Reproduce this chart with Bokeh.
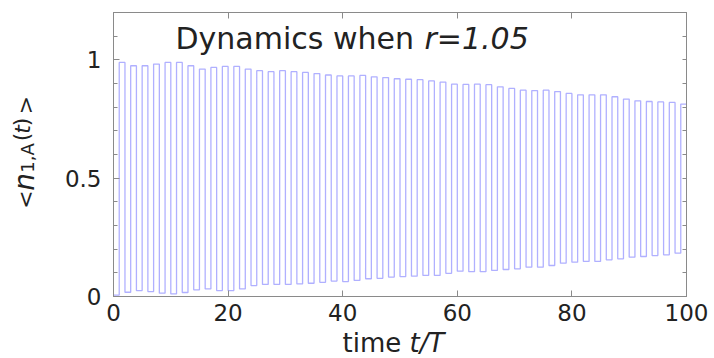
import numpy as np
from bokeh.plotting import figure
from bokeh.layouts import row, column
from bokeh.models import Label, LinearAxis, FixedTicker, Range1d, ColumnDataSource
from bokeh.embed import file_html
from bokeh.resources import INLINE

# ---- data ----
pulse_index = list(range(50))          # pulse k: low on [2k, 2k+1], high on [2k+1, 2k+2]
high_vals = [0.989, 0.975, 0.975, 0.982, 0.989, 0.989, 0.975, 0.961, 0.968, 0.972,
             0.972, 0.961, 0.954, 0.950, 0.954, 0.950, 0.947, 0.942, 0.936, 0.932,
             0.932, 0.934, 0.928, 0.925, 0.920, 0.918, 0.916, 0.911, 0.906, 0.897,
             0.896, 0.897, 0.895, 0.886, 0.879, 0.872, 0.870, 0.872, 0.866, 0.858,
             0.852, 0.852, 0.852, 0.844, 0.834, 0.827, 0.824, 0.822, 0.820, 0.813]
low_vals = [0.006, 0.018, 0.025, 0.021, 0.014, 0.011, 0.017, 0.028, 0.032, 0.025,
            0.025, 0.032, 0.046, 0.051, 0.051, 0.051, 0.053, 0.056, 0.060, 0.065,
            0.063, 0.068, 0.075, 0.077, 0.082, 0.084, 0.086, 0.089, 0.089, 0.098,
            0.107, 0.105, 0.105, 0.110, 0.114, 0.117, 0.124, 0.124, 0.131, 0.141,
            0.145, 0.148, 0.148, 0.155, 0.159, 0.166, 0.169, 0.173, 0.176, 0.183]
x_ticks = [0, 20, 40, 60, 80, 100]
y_ticks = [0, 0.5, 1]
y_minor = [round(0.1 * i, 1) for i in range(13)]

xs, ys = [], []
for k in pulse_index:
    t0 = 2 * k
    xs += [t0, t0 + 1, t0 + 1, t0 + 2]
    ys += [low_vals[k], low_vals[k], high_vals[k], high_vals[k]]
src = ColumnDataSource(dict(x=xs, y=ys))

FONT = "DejaVu Sans"
GRAY = "#8a8a8a"
TXT = "#222222"
MAIN_H = 327
FRAME_BOTTOM = 296   # page y of the plot frame's bottom edge (shared by the y-label strip)

p = figure(width=654, height=MAIN_H, x_range=Range1d(0, 100), y_range=Range1d(0, 1.2),
           output_backend="svg", toolbar_location=None,
           min_border_left=53, min_border_right=28, min_border_top=12,
           min_border_bottom=MAIN_H - FRAME_BOTTOM)
p.grid.visible = False
p.outline_line_color = GRAY
p.background_fill_color = "white"

p.line("x", "y", source=src, line_color="#7c7cff", line_alpha=0.6, line_width=1.3)

def style(ax):
    ax.axis_line_color = GRAY
    ax.major_tick_line_color = GRAY
    ax.minor_tick_line_color = GRAY
    ax.major_tick_in = 6
    ax.major_tick_out = 0
    ax.minor_tick_in = 4
    ax.minor_tick_out = 0
    ax.major_label_text_font = FONT
    ax.major_label_text_font_size = "23px"
    ax.major_label_text_color = TXT

xa = p.xaxis[0]
xa.ticker = FixedTicker(ticks=x_ticks)
style(xa)
xa.minor_tick_line_color = None
xa.major_label_standoff = 7

ya = p.yaxis[0]
ya.ticker = FixedTicker(ticks=y_ticks, minor_ticks=y_minor)
style(ya)
ya.major_label_standoff = 12

# frame ticks on top / right, drawn as unlabeled minor ticks
top = LinearAxis(ticker=FixedTicker(ticks=[], minor_ticks=x_ticks))
style(top)
top.minor_tick_in = 6
p.add_layout(top, "above")

right = LinearAxis(ticker=FixedTicker(ticks=[], minor_ticks=y_minor))
style(right)
p.add_layout(right, "right")

def lab(fig, text, x, y, size, italic=False, angle=0.0, align="left", baseline="alphabetic"):
    fig.add_layout(Label(text=text, x=x, y=y, x_units="screen", y_units="screen",
                         text_font=FONT, text_font_size=size, text_color=TXT,
                         text_font_style="italic" if italic else "normal",
                         text_align=align, text_baseline=baseline, angle=angle))

# title inside the frame
lab(p, "Dynamics when ", 62, 258, "30px")
lab(p, "r=1.05", 311, 258, "30px", italic=True)

def blank(w, h):
    f = figure(width=w, height=h, x_range=Range1d(0, 1), y_range=Range1d(0, 1),
               output_backend="svg", toolbar_location=None, min_border=0,
               x_axis_location=None, y_axis_location=None)
    f.grid.visible = False
    f.outline_line_color = None
    return f

# y axis label (rotated) in its own strip; its frame is aligned with the plot frame
yfig = blank(60, MAIN_H)
A = np.pi / 2
def ylab(text, x, page_y, size, italic=False):
    lab(yfig, text, x, FRAME_BOTTOM - page_y, size, italic=italic, angle=A,
        align="center", baseline="middle")
ylab("<", 24.5, 199, "22px")
ylab("n", 23.5, 181.5, "28px", italic=True)
ylab("1,A", 27, 157.5, "18px")
ylab("(", 21, 136.5, "22px")
ylab("t", 22, 129, "22px", italic=True)
ylab(")", 21, 121.5, "22px")
ylab(">", 24.5, 104.5, "22px")

# x axis label strip
XH = 358 - MAIN_H
xfig = blank(714, XH)
lab(xfig, "time ", 342, 15.5, "26px")
lab(xfig, "t/T", 409, 15.5, "26px", italic=True)

layout = column(row(yfig, p), xfig)
open("out.html", "w").write(file_html(layout, INLINE))
